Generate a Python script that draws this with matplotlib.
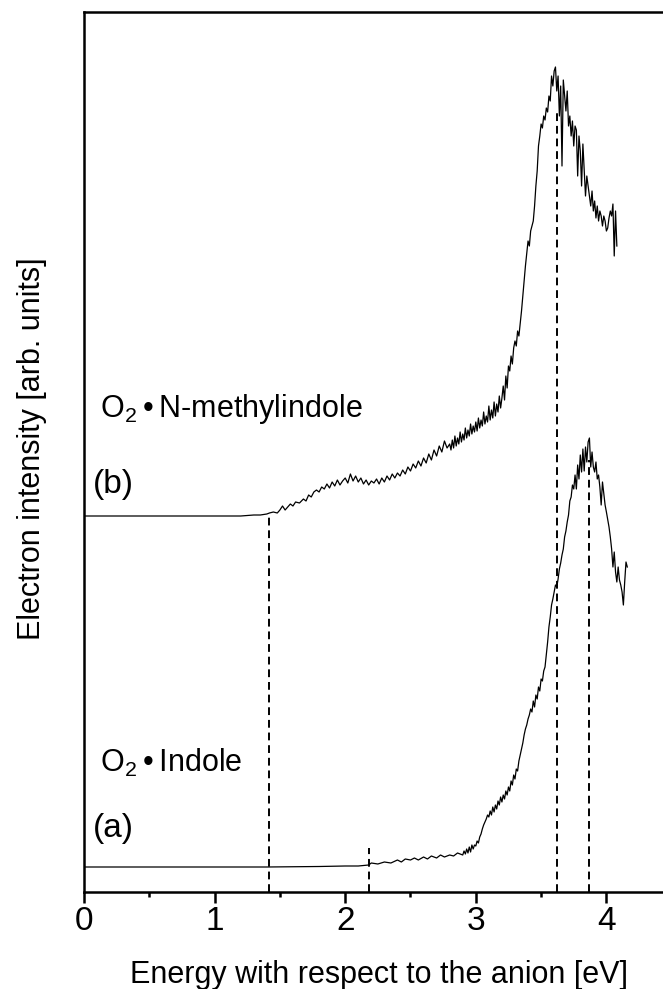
import matplotlib
matplotlib.use("Agg")
import matplotlib.pyplot as plt
from matplotlib.ticker import MultipleLocator

plt.rcParams['font.family'] = ['Liberation Sans', 'DejaVu Sans']
plt.rcParams['mathtext.fontset'] = 'custom'
plt.rcParams['mathtext.rm'] = 'Liberation Sans'
plt.rcParams['mathtext.it'] = 'Liberation Sans:italic'

# ---- data (energy in eV, intensity in arb. units above each baseline) ----
energy_a = [0.00, 0.50, 1.00, 1.40, 1.80, 2.00, 2.10, 2.18, 2.20, 2.25, 2.30, 2.35,
            2.40, 2.43, 2.46, 2.50, 2.53, 2.56, 2.60, 2.63, 2.66, 2.70, 2.73, 2.76,
            2.80, 2.83, 2.86,
            2.90, 2.91, 2.92, 2.93, 2.94, 2.95, 2.96, 2.97, 2.98, 2.99,
            3.00, 3.01, 3.02, 3.03, 3.04, 3.05, 3.06, 3.07, 3.08, 3.09,
            3.10, 3.11, 3.12, 3.13, 3.14, 3.15, 3.16, 3.17, 3.18, 3.19,
            3.20, 3.21, 3.22, 3.23, 3.24, 3.25, 3.26, 3.27, 3.28, 3.29,
            3.30, 3.31, 3.32, 3.33, 3.34, 3.35, 3.36, 3.37, 3.38, 3.39,
            3.40, 3.41, 3.42, 3.43, 3.44, 3.45, 3.46, 3.47, 3.48, 3.49,
            3.50, 3.51, 3.52, 3.53, 3.54, 3.55, 3.56, 3.57, 3.58, 3.59,
            3.60, 3.61, 3.62, 3.63, 3.64, 3.65, 3.66, 3.67, 3.68, 3.69,
            3.70, 3.71, 3.72, 3.73, 3.74, 3.75, 3.76, 3.77, 3.78, 3.79,
            3.80, 3.81, 3.82, 3.83, 3.84, 3.85, 3.86, 3.87, 3.88, 3.89, 3.90, 3.91,
            3.92, 3.93, 3.94, 3.95, 3.96, 3.97, 3.99, 4.00, 4.02, 4.03, 4.04, 4.05,
            4.06, 4.07, 4.08, 4.09, 4.10, 4.11, 4.12, 4.13, 4.14, 4.15, 4.16]
intensity_a = [0, 0, 0, 0, 0.5, 1, 1, 2, 4, 3, 5, 4,
               7, 5, 8, 7, 9, 7, 10, 8, 11, 9, 12, 10,
               12, 11, 14,
               12, 16, 13, 18, 14, 20, 15, 22, 18, 22,
               21, 26, 24, 30, 33, 38, 42, 45, 48, 52,
               50, 56, 52, 60, 55, 62, 58, 66, 62, 70,
               65, 72, 68, 76, 72, 80, 76, 86, 82, 92,
               88, 98, 96, 106, 112, 118, 124, 132, 138, 142,
               148, 152, 158, 155, 166, 160, 172, 168, 180, 176,
               188, 186, 196, 200, 212, 225, 240, 250, 262, 268,
               275, 282, 280, 288, 298, 304, 312, 318, 330, 336,
               345, 352, 366, 370, 382, 378, 392, 378, 402, 388,
               412, 395, 418, 396, 420, 405, 425, 429, 400, 415, 400, 395,
               405, 388, 392, 380, 362, 385, 362, 355, 340, 330, 318, 300,
               315, 295, 285, 300, 287, 282, 275, 262, 285, 305, 300]

energy_b = [0.00, 0.50, 1.00, 1.20, 1.25, 1.30, 1.35, 1.40, 1.42, 1.45, 1.48, 1.50,
            1.52, 1.54, 1.56, 1.58, 1.60, 1.62, 1.65, 1.68, 1.70, 1.72, 1.74, 1.76,
            1.78, 1.80, 1.82, 1.84, 1.86, 1.88, 1.90, 1.92, 1.94, 1.96, 1.98, 2.00,
            2.02, 2.04, 2.06, 2.08, 2.10, 2.12, 2.14, 2.16, 2.18, 2.20, 2.22, 2.24,
            2.26, 2.28, 2.30, 2.32, 2.34, 2.36, 2.38, 2.40, 2.42, 2.44, 2.46, 2.48,
            2.50, 2.52, 2.54, 2.56, 2.58, 2.60, 2.62, 2.64, 2.66, 2.68, 2.70, 2.72,
            2.74, 2.76, 2.78,
            2.80, 2.81, 2.82, 2.83, 2.84, 2.85, 2.86, 2.87, 2.88, 2.89,
            2.90, 2.91, 2.92, 2.93, 2.94, 2.95, 2.96, 2.97, 2.98, 2.99,
            3.00, 3.01, 3.02, 3.03, 3.04, 3.05, 3.06, 3.07, 3.08, 3.09,
            3.10, 3.11, 3.12, 3.13, 3.14, 3.15, 3.16, 3.17, 3.18, 3.19,
            3.20, 3.21, 3.22, 3.23, 3.24, 3.25, 3.26, 3.27, 3.28, 3.29,
            3.30, 3.31, 3.32, 3.33, 3.34, 3.35, 3.36, 3.37, 3.38, 3.39,
            3.40, 3.41, 3.42, 3.43, 3.44, 3.45, 3.46, 3.47, 3.48, 3.49,
            3.50, 3.51, 3.52, 3.53, 3.54, 3.55, 3.56,
            3.57, 3.58, 3.59, 3.60, 3.61, 3.62,
            3.63, 3.64, 3.65, 3.66, 3.67, 3.68, 3.69, 3.70, 3.71, 3.72, 3.73, 3.74,
            3.75, 3.76, 3.77, 3.78, 3.79, 3.80, 3.81, 3.82, 3.83, 3.84, 3.85, 3.86,
            3.87, 3.88, 3.89, 3.90, 3.91, 3.92, 3.93, 3.94, 3.95, 3.96, 3.97, 3.98,
            3.99, 4.00, 4.01, 4.02, 4.03, 4.04, 4.05, 4.06, 4.07, 4.08]
intensity_b = [0, 0, 0, 0, 0.5, 1, 1, 2, 3, 4, 3, 6,
               10, 6, 9, 12, 10, 14, 13, 17, 15, 21, 19, 24,
               26, 24, 29, 27, 32, 28, 34, 30, 36, 31, 35, 38,
               33, 42, 35, 40, 34, 38, 32, 36, 31, 35, 33, 37,
               32, 38, 34, 40, 36, 42, 38, 43, 40, 46, 42, 49,
               45, 52, 48, 55, 50, 58, 53, 62, 56, 66, 60, 70,
               64, 75, 68,
               72, 66, 76, 68, 80, 70, 78, 72, 84, 74,
               82, 76, 88, 78, 86, 80, 92, 82, 90, 84,
               94, 85, 98, 88, 96, 90, 104, 92, 100, 94,
               110, 96, 106, 98, 114, 100, 112, 104, 120, 108,
               118, 130, 116, 140, 128, 150, 145, 160, 152, 168,
               175, 170, 185, 180, 192, 205, 220, 235, 250, 262,
               275, 270, 285, 290, 295, 310, 330, 345, 370, 380,
               392, 388, 400, 396, 408, 404, 420,
               415, 440, 430, 445, 449, 425,
               440, 400, 430, 350, 436, 420, 405, 425, 390, 400, 380, 395,
               370, 390, 386, 340, 380, 365, 330, 372, 345, 320, 340, 330,
               320, 310, 325, 305, 315, 298, 310, 295, 305, 300, 290, 300,
               295, 285, 288, 298, 305, 300, 312, 260, 305, 270]

offset_a = 25
offset_b = 376

# vertical dashed markers: energy, top of the line
marker_energy = [1.42, 2.18, 3.62, 3.87]
marker_top = [376, 44, 779, 432]

xticks_major = [0, 1, 2, 3, 4]

# ---- figure ----
fig = plt.figure(figsize=(6.63, 9.89), dpi=100)
ax = fig.add_axes([84 / 663, 97 / 989, 4.5 * 130.6 / 663, 880 / 989])

ax.plot(energy_a, [v + offset_a for v in intensity_a], color='black', lw=0.9)
ax.plot(energy_b, [v + offset_b for v in intensity_b], color='black', lw=0.9)

for e, top in zip(marker_energy, marker_top):
    ax.plot([e, e], [0, top], color='black', lw=1.4, linestyle=(0, (4, 2.5)))

ax.set_xlim(0, 4.5)
ax.set_ylim(0, 880)
ax.set_xticks(xticks_major)
ax.set_xticklabels([str(t) for t in xticks_major])
ax.xaxis.set_minor_locator(MultipleLocator(0.5))
ax.set_yticks([])
ax.tick_params(axis='x', which='major', direction='out', length=8, width=1.8,
               labelsize=24, pad=2)
ax.tick_params(axis='x', which='minor', direction='out', length=3.5, width=1.8)
for s in ax.spines.values():
    s.set_linewidth(1.8)
ax.spines['right'].set_visible(False)

ax.text(0.12, 475, r'O$_{2}\:$•$\:$N-methylindole', fontsize=22, va='baseline', ha='left')
ax.text(0.07, 399, '(b)', fontsize=24, va='baseline', ha='left')
ax.text(0.12, 120, r'O$_{2}\:$•$\:$Indole', fontsize=22, va='baseline', ha='left')
ax.text(0.07, 55, '(a)', fontsize=24, va='baseline', ha='left')

fig.text(379 / 663, 6 / 989, 'Energy with respect to the anion [eV]', fontsize=22,
         ha='center', va='baseline')
fig.text(32 / 663, 1 - 449 / 989, 'Electron intensity [arb. units]', fontsize=22,
         ha='center', va='center', rotation=90)

fig.savefig('out.png', dpi=100)
